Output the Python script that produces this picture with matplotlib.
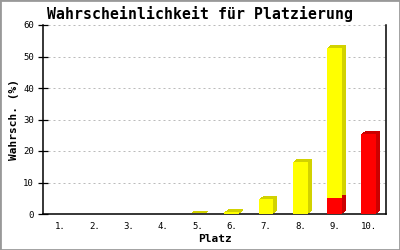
import matplotlib
matplotlib.use("Agg")
import matplotlib.pyplot as plt
import matplotlib.transforms as mtransforms
from matplotlib.patches import Rectangle

places = ["1.", "2.", "3.", "4.", "5.", "6.", "7.", "8.", "9.", "10."]
red_vals = [0, 0, 0, 0, 0, 0, 0, 0, 5.2, 25.4]
yellow_vals = [0, 0, 0, 0, 0.1, 0.6, 4.8, 16.6, 47.6, 0]
yticks = [0, 10, 20, 30, 40, 50, 60]

font = "DejaVu Sans Mono"
dpi = 100
fig = plt.figure(figsize=(4, 2.5), dpi=dpi)
ax = fig.add_axes([43 / 400, 36 / 250, 343 / 400, 189 / 250])

x = list(range(1, len(places) + 1))
w = 0.43
depth_x, depth_y = 4, 3  # pixels

# 3D side/top: several shifted copies in darker colour
for k in range(1, 5):
    off = mtransforms.ScaledTranslation(k * depth_x / 4 / dpi, k * depth_y / 4 / dpi,
                                        fig.dpi_scale_trans)
    for vals, bottoms, col in [(red_vals, [0] * 10, "#cc0000"),
                               (yellow_vals, red_vals, "#d2d200")]:
        bars = ax.bar(x, vals, width=w, bottom=bottoms, color=col, linewidth=0, zorder=2)
        for p in bars:
            p.set_transform(ax.transData + off)

ax.bar(x, red_vals, width=w, color="#ff0000", linewidth=0, zorder=3)
ax.bar(x, yellow_vals, width=w, bottom=red_vals, color="#ffff00", linewidth=0, zorder=3)

ax.set_xlim(0.5, 10.5)
ax.set_ylim(0, 60)
ax.set_xticks(x)
ax.set_xticklabels(places, family=font, fontsize=6.5)
ax.set_yticks(yticks)
ax.set_yticklabels([str(v) for v in yticks], family=font, fontsize=6.5)
ax.tick_params(axis="x", length=0, pad=6)
ax.tick_params(axis="y", direction="inout", length=7.2, width=0.9, pad=3)

ax.grid(axis="y", color="#bbbbbb", linestyle=(0, (2, 3)), linewidth=0.72, zorder=1)
ax.set_axisbelow(True)

ax.spines["top"].set_visible(False)
for s in ["left", "right", "bottom"]:
    ax.spines[s].set_linewidth(1.1)
    ax.spines[s].set_color("black")

ax.set_xlabel("Platz", family=font, fontsize=8, fontweight="bold", labelpad=2)
ax.set_ylabel("Wahrsch. (%)", family=font, fontsize=8, fontweight="bold", labelpad=3)
fig.text(0.5, 1 - 18.5 / 250, "Wahrscheinlichkeit für Platzierung", family=font,
         fontsize=10.7, fontweight="bold", ha="center", va="baseline")

fig.patches.append(Rectangle((0, 0), 1, 1, transform=fig.transFigure, fill=False,
                             edgecolor="#999999", linewidth=2))

fig.savefig("out.png", dpi=dpi)
